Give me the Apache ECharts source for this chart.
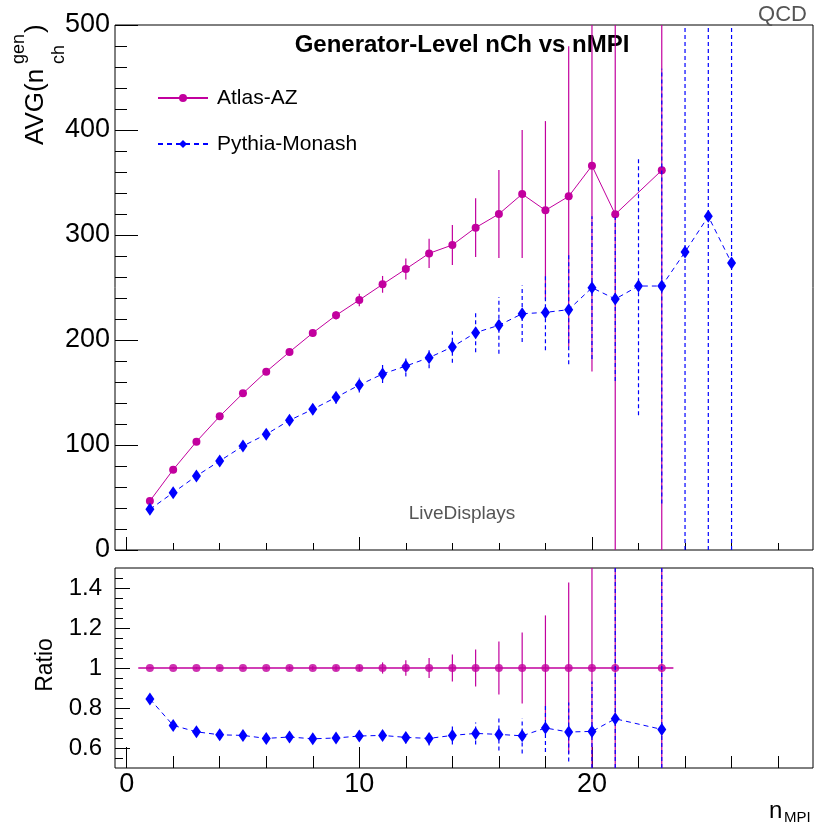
<!DOCTYPE html>
<html>
<head>
<meta charset="utf-8">
<script src="https://cdn.jsdelivr.net/npm/echarts@6/dist/echarts.min.js"></script>
<style>html,body{margin:0;padding:0;background:#fff;}#chart{width:820px;height:831px;}</style>
</head>
<body>
<div id="chart"></div>
<script>
// ---------- data ----------
const atlasBins = [1,2,3,4,5,6,7,8,9,10,11,12,13,14,15,16,17,18,19,20,21,23];
const atlasAvg  = [46.7,76.5,103.2,127.3,149.2,169.8,188.6,206.7,223.5,238.1,253.0,267.6,282.5,290.5,307.0,320.0,339.0,323.5,336.8,366.0,319.7,361.6];
const atlasErr  = [1,1.5,2,2,2.5,3,3,3.5,4,6,8,10,14,19,28,42,61,85,143,196,420,500];

const pythiaBins = [1,2,3,4,5,6,7,8,9,10,11,12,13,14,15,16,17,18,19,20,21,22,23,24,25,26];
const pythiaAvg  = [38.7,54.6,70.5,84.8,99.0,110.2,123.5,134.0,145.4,157.1,167.6,175.2,183.2,193.4,207.0,214.0,225.0,226.3,228.9,249.8,239.0,251.4,251.4,283.8,317.8,273.3];
const pythiaErr  = [1,1.5,2,2.5,3,3.5,4,5,6,7,8.5,10,10,15,18.6,27,27,36,52,68,78,123,207,420,450,450];

const ratioBins       = [1,2,3,4,5,6,7,8,9,10,11,12,13,14,15,16,17,18,19,20,21,23];
const atlasRatio      = [1,1,1,1,1,1,1,1,1,1,1,1,1,1,1,1,1,1,1,1,1,1];
const atlasRatioErr   = [0.003,0.004,0.005,0.006,0.007,0.008,0.009,0.01,0.012,0.015,0.028,0.039,0.05,0.068,0.092,0.133,0.178,0.263,0.428,0.6,1.3,1.4];
const pythiaRatio     = [0.845,0.713,0.681,0.666,0.663,0.648,0.655,0.646,0.650,0.660,0.663,0.653,0.648,0.663,0.673,0.668,0.661,0.700,0.680,0.683,0.746,0.693];
const pythiaRatioErr  = [0.01,0.01,0.01,0.01,0.01,0.01,0.012,0.013,0.015,0.018,0.02,0.03,0.035,0.045,0.055,0.08,0.088,0.12,0.147,0.25,0.8,0.9];

const xMajorTicks = [0,10,20];
const xMinorTicks = [2,4,6,8,12,14,16,18,22,24,26,28];
const ratioMajorTicks = [0.6,0.8,1,1.2,1.4];
const ratioMinorTicks = [0.55,0.65,0.7,0.75,0.85,0.9,0.95,1.05,1.1,1.15,1.25,1.3,1.35,1.45];

// ---------- style ----------
const FONT = "'Liberation Sans', Arial, Helvetica, sans-serif";
const MAG = '#c2009e';
const BLUE = '#0000ff';

function zip3(a,b,c){ return a.map((v,i)=>[v,b[i],c[i]]); }
function zip2(a,b){ return a.map((v,i)=>[v,b[i]]); }

function errRender(color, dashed){
  return function(params, api){
    const x = api.value(0), y = api.value(1), e = api.value(2);
    const p1 = api.coord([x, y - e]);
    const p2 = api.coord([x, y + e]);
    const cs = params.coordSys;
    const top = cs.y, bot = cs.y + cs.height;
    const clamp = v => Math.min(Math.max(v, top), bot);
    return {
      type: 'line',
      shape: {x1: p1[0], y1: clamp(p1[1]), x2: p1[0], y2: clamp(p2[1])},
      style: {stroke: color, lineWidth: 1.2, lineDash: dashed ? [4,3] : null}
    };
  };
}

const chart = echarts.init(document.getElementById('chart'), null, {renderer:'canvas'});

const xBase = {min:-0.5, max:29.5, type:'value', position:'bottom', splitLine:{show:false}, axisLine:{show:false, onZero:false}};
const yLine = {show:false, onZero:false};

const option = {
  animation: false,
  backgroundColor: '#fff',
  grid: [
    {left:115, top:25, width:698, height:525, show:true, borderColor:'#000', borderWidth:1, backgroundColor:'transparent'},
    {left:115, top:568, width:698, height:200, show:true, borderColor:'#000', borderWidth:1, backgroundColor:'transparent'}
  ],
  xAxis: [
    Object.assign({}, xBase, {gridIndex:0, axisLabel:{show:false},
      axisTick:{show:true, inside:true, length:13, customValues:xMajorTicks, lineStyle:{color:'#000'}}}),
    Object.assign({}, xBase, {gridIndex:0, axisLabel:{show:false},
      axisTick:{show:true, inside:true, length:7, customValues:xMinorTicks, lineStyle:{color:'#000'}}}),
    Object.assign({}, xBase, {gridIndex:1,
      axisLabel:{show:true, customValues:xMajorTicks, fontSize:27, fontFamily:FONT, color:'#000', margin:3},
      axisTick:{show:true, inside:true, length:21, customValues:xMajorTicks, lineStyle:{color:'#000'}}}),
    Object.assign({}, xBase, {gridIndex:1, axisLabel:{show:false},
      axisTick:{show:true, inside:true, length:12, customValues:xMinorTicks, lineStyle:{color:'#000'}}})
  ],
  yAxis: [
    {gridIndex:0, type:'value', position:'left', min:0, max:500, interval:100, splitLine:{show:false},
      axisLine:yLine,
      axisTick:{show:true, inside:true, length:23, lineStyle:{color:'#000'}},
      minorTick:{show:true, splitNumber:5, length:12, lineStyle:{color:'#000'}},
      axisLabel:{fontSize:27, fontFamily:FONT, color:'#000', margin:5}},
    {gridIndex:1, type:'value', position:'left', min:0.5, max:1.5, splitLine:{show:false},
      axisLine:yLine,
      axisTick:{show:true, inside:true, length:15, customValues:ratioMajorTicks, lineStyle:{color:'#000'}},
      axisLabel:{show:true, customValues:ratioMajorTicks, fontSize:24, fontFamily:FONT, color:'#000', margin:13}},
    {gridIndex:1, type:'value', position:'left', min:0.5, max:1.5, splitLine:{show:false},
      axisLine:yLine,
      axisTick:{show:true, inside:true, length:8, customValues:ratioMinorTicks, lineStyle:{color:'#000'}},
      axisLabel:{show:false}}
  ],
  legend: {
    data:['Atlas-AZ','Pythia-Monash'], orient:'vertical', left:157, top:87.5, padding:0,
    itemWidth:50, itemHeight:10, itemGap:25,
    textStyle:{fontSize:21, fontFamily:FONT, color:'#000', padding:[0,0,0,4]}
  },
  series: [
    {name:'atlasErr', type:'custom', xAxisIndex:0, yAxisIndex:0, data: zip3(atlasBins, atlasAvg, atlasErr),
      encode:{x:0, y:1}, renderItem: errRender(MAG, false), z:2},
    {name:'Atlas-AZ', type:'line', xAxisIndex:0, yAxisIndex:0, data: zip2(atlasBins, atlasAvg),
      symbol:'circle', symbolSize:8, itemStyle:{color:MAG}, lineStyle:{color:MAG, width:1}, z:3},
    {name:'pythiaErr', type:'custom', xAxisIndex:0, yAxisIndex:0, data: zip3(pythiaBins, pythiaAvg, pythiaErr),
      encode:{x:0, y:1}, renderItem: errRender(BLUE, true), z:4},
    {name:'Pythia-Monash', type:'line', xAxisIndex:0, yAxisIndex:0, data: zip2(pythiaBins, pythiaAvg),
      symbol:'diamond', symbolSize:[9,13], itemStyle:{color:BLUE}, lineStyle:{color:BLUE, width:1, type:[5,4]}, z:5},

    {name:'atlasRatioBand', type:'line', xAxisIndex:2, yAxisIndex:1,
      data: [[ratioBins[0]-0.5, atlasRatio[0]], [ratioBins[ratioBins.length-1]+0.5, atlasRatio[atlasRatio.length-1]]],
      symbol:'none', lineStyle:{color:MAG, width:1.5}, z:2},
    {name:'atlasRatioErr', type:'custom', xAxisIndex:2, yAxisIndex:1, data: zip3(ratioBins, atlasRatio, atlasRatioErr),
      encode:{x:0, y:1}, renderItem: errRender(MAG, false), z:2},
    {name:'atlasRatioPts', type:'scatter', xAxisIndex:2, yAxisIndex:1, data: zip2(ratioBins, atlasRatio),
      symbol:'circle', symbolSize:8, itemStyle:{color:MAG}, z:3},
    {name:'pythiaRatioErr', type:'custom', xAxisIndex:2, yAxisIndex:1, data: zip3(ratioBins, pythiaRatio, pythiaRatioErr),
      encode:{x:0, y:1}, renderItem: errRender(BLUE, true), z:4},
    {name:'pythiaRatioLine', type:'line', xAxisIndex:2, yAxisIndex:1, data: zip2(ratioBins, pythiaRatio),
      symbol:'diamond', symbolSize:[9,13], itemStyle:{color:BLUE}, lineStyle:{color:BLUE, width:1, type:[5,4]}, z:5}
  ],
  graphic: [
    {type:'text', x:462, y:45, style:{text:'Generator-Level nCh vs nMPI', fontSize:24, fontWeight:'bold', fontFamily:FONT, fill:'#000', align:'center', verticalAlign:'middle'}},
    {type:'text', x:807, y:15, style:{text:'QCD', fontSize:22, fontFamily:FONT, fill:'#555', align:'right', verticalAlign:'middle'}},
    {type:'text', x:462, y:514, style:{text:'LiveDisplays', fontSize:19, fontFamily:FONT, fill:'#555', align:'center', verticalAlign:'middle'}},
    {type:'text', x:36, y:145, rotation:Math.PI/2, style:{text:'AVG(n', fontSize:26, fontFamily:FONT, fill:'#000', align:'left', verticalAlign:'middle'}},
    {type:'text', x:19, y:64, rotation:Math.PI/2, style:{text:'gen', fontSize:18, fontFamily:FONT, fill:'#000', align:'left', verticalAlign:'middle'}},
    {type:'text', x:59, y:64, rotation:Math.PI/2, style:{text:'ch', fontSize:18, fontFamily:FONT, fill:'#000', align:'left', verticalAlign:'middle'}},
    {type:'text', x:36, y:33, rotation:Math.PI/2, style:{text:')', fontSize:26, fontFamily:FONT, fill:'#000', align:'left', verticalAlign:'middle'}},
    {type:'text', x:46, y:665, rotation:Math.PI/2, style:{text:'Ratio', fontSize:23, fontFamily:FONT, fill:'#000', align:'center', verticalAlign:'middle'}},
    {type:'text', x:769, y:811, style:{text:'n', fontSize:24, fontFamily:FONT, fill:'#000', align:'left', verticalAlign:'middle'}},
    {type:'text', x:784, y:818, style:{text:'MPI', fontSize:15, fontFamily:FONT, fill:'#000', align:'left', verticalAlign:'middle'}}
  ]
};
chart.setOption(option);
</script>
</body>
</html>
